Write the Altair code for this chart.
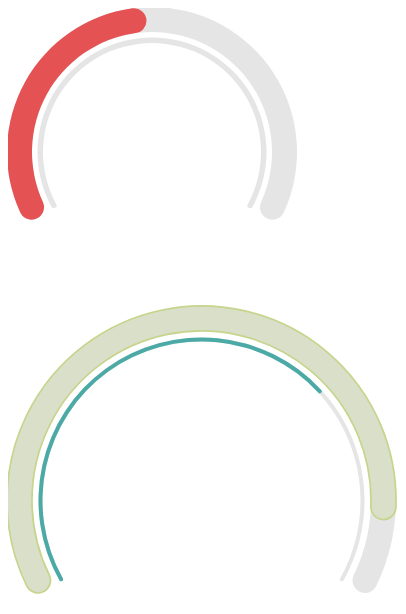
import math
import altair as alt
import pandas as pd

# ---- data ----
gauges = ["top", "bottom"]
band_values = [49, 90]      # outer thick band value (0-100)
ring_values = [0, 70]       # inner thin ring value (0-100)
scale_max = 100

rows = []
for g, b, r in zip(gauges, band_values, ring_values):
    rows.append({"gauge": g, "part": "band_track", "v0": 0, "v1": scale_max})
    rows.append({"gauge": g, "part": "band_value", "v0": 0, "v1": b})
    rows.append({"gauge": g, "part": "ring_track", "v0": 0, "v1": scale_max})
    rows.append({"gauge": g, "part": "ring_value", "v0": 0, "v1": r})
df = pd.DataFrame(rows)

span = 2 * math.pi / 3
theta_scale = alt.Scale(domain=[0, scale_max], range=[-span, span])

geom = {
    "top": dict(cx=144, cy=144, band=(120, 145), ring=(109, 114.5)),
    "bottom": dict(cx=193.5, cy=492.5, band=(169.5, 194.5), ring=(159, 163)),
}
styles = {
    "top": {
        "band_track": dict(color="#e5e5e5"),
        "band_value": dict(color="#e55253"),
        "ring_track": dict(color="#e5e5e5"),
        "ring_value": dict(color="#4baaa6"),
    },
    "bottom": {
        "band_track": dict(color="#e5e5e5"),
        "band_value": dict(fill="#d9dfc8", stroke="#c6d48c", strokeWidth=1.7),
        "ring_track": dict(color="#e5e5e5"),
        "ring_value": dict(color="#4baaa6"),
    },
}

base = alt.Chart(df)


def arc(g, part):
    gm = geom[g]
    inner, outer = gm["band"] if part.startswith("band") else gm["ring"]
    return (
        base.transform_filter(
            (alt.datum.gauge == g) & (alt.datum.part == part) & (alt.datum.v1 > alt.datum.v0)
        )
        .mark_arc(radius=outer, radius2=inner, cornerRadius=(outer - inner) / 2, **styles[g][part])
        .encode(
            theta=alt.Theta("v0:Q", scale=theta_scale, stack=False),
            theta2="v1:Q",
            x=alt.value(gm["cx"]),
            y=alt.value(gm["cy"]),
        )
    )


layers = []
for g in gauges:
    for part in ["band_track", "band_value", "ring_track", "ring_value"]:
        layers.append(arc(g, part))

chart = (
    alt.layer(*layers)
    .properties(width=390, height=598, padding=0, autosize=alt.AutoSizeParams(type="none"))
    .configure_view(stroke=None)
)

chart.save("out.html", embed_options={"renderer": "svg", "actions": False})
